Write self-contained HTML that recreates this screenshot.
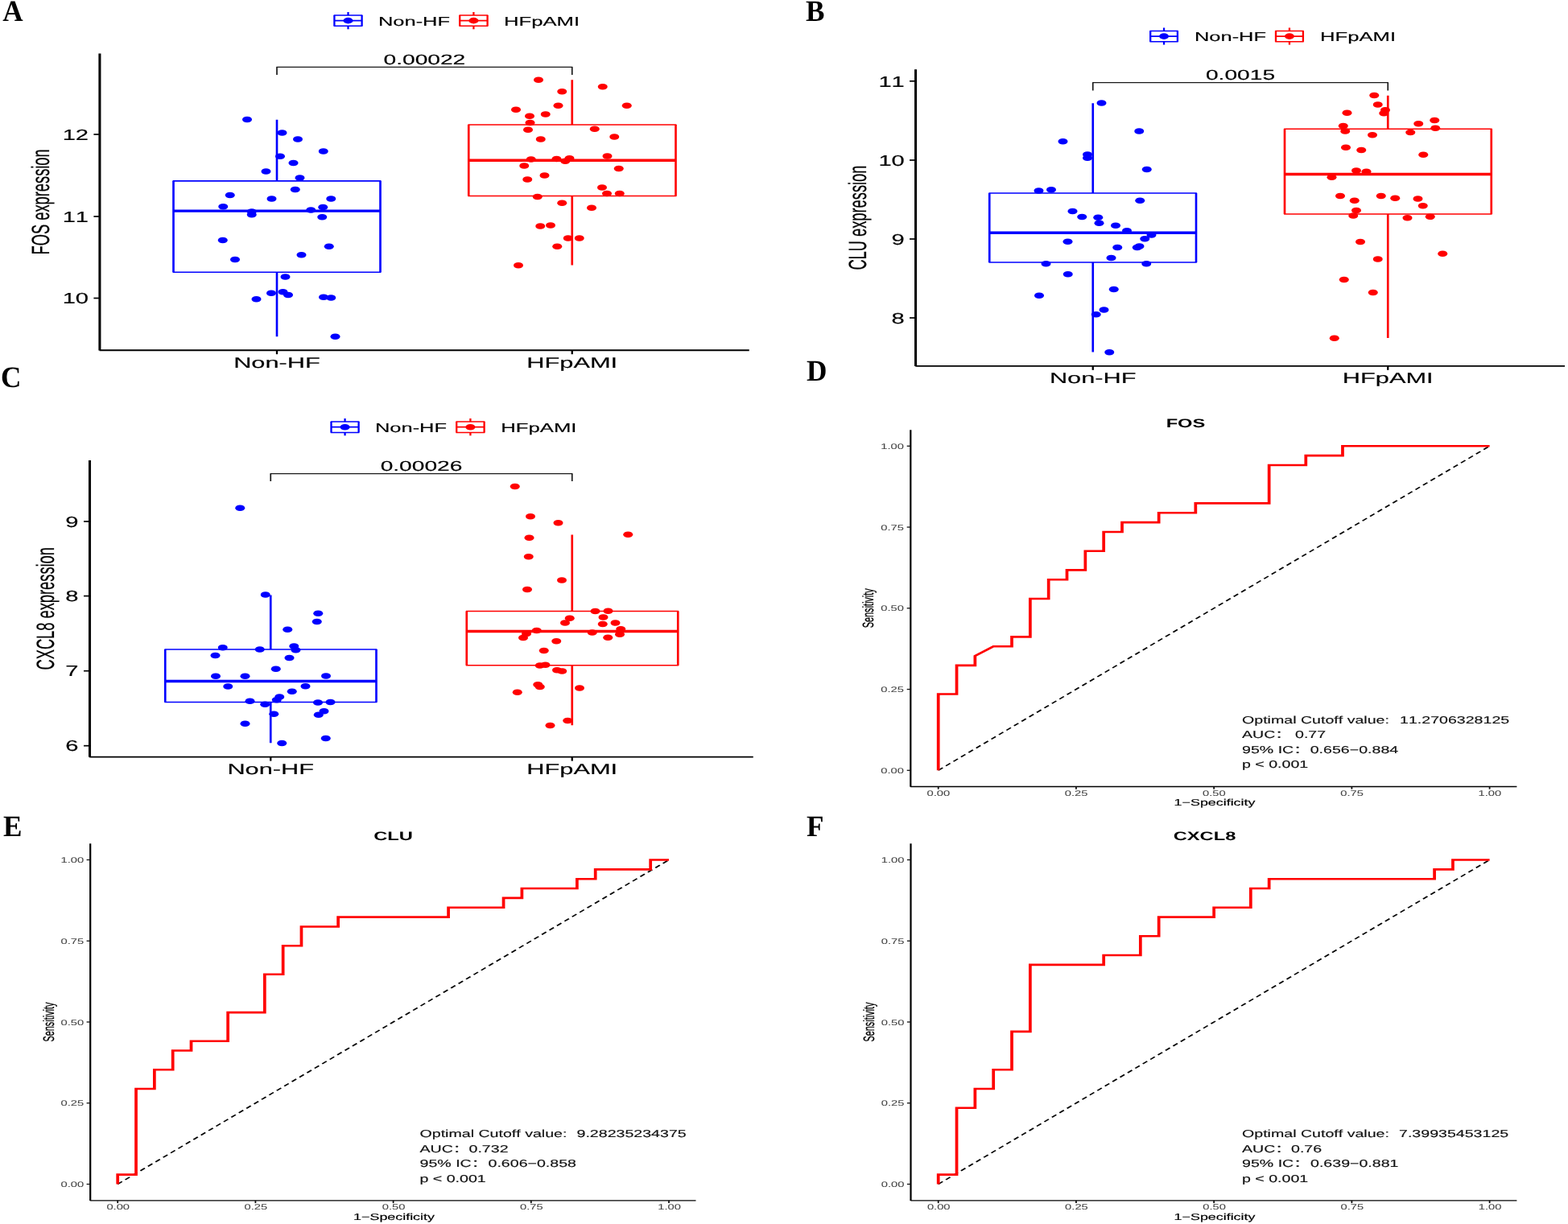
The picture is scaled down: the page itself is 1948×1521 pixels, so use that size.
<!DOCTYPE html>
<html lang="en">
<head>
<meta charset="utf-8">
<title>Figure: FOS, CLU and CXCL8 expression and ROC curves</title>
<style>
html,body{margin:0;padding:0;background:#fff;}
body{width:1948px;height:1521px;overflow:hidden;}
svg{display:block;font-family:'Liberation Sans', 'Noto Sans CJK SC', Arial, Helvetica, sans-serif;font-kerning:none;text-rendering:geometricPrecision;}
</style>
</head>
<body>
<svg width="1948" height="1521" viewBox="0 0 1948 1521">
<rect x="0" y="0" width="1948" height="1521" fill="#ffffff"/>
<line x1="123.90" y1="66.50" x2="123.90" y2="435.40" stroke="#000" stroke-width="3.05" stroke-linecap="butt"/>
<line x1="123.60" y1="435.20" x2="930.75" y2="435.20" stroke="#000" stroke-width="1.95" stroke-linecap="butt"/>
<line x1="116.40" y1="167.00" x2="123.90" y2="167.00" stroke="#000" stroke-width="1.7" stroke-linecap="butt"/>
<text transform="translate(110.05 173.70) scale(1.550 1)" font-size="18.8" text-anchor="end" fill="#000" stroke="#000" stroke-width="0.15">12</text>
<line x1="116.40" y1="269.00" x2="123.90" y2="269.00" stroke="#000" stroke-width="1.7" stroke-linecap="butt"/>
<text transform="translate(110.05 275.70) scale(1.550 1)" font-size="18.8" text-anchor="end" fill="#000" stroke="#000" stroke-width="0.15">11</text>
<line x1="116.40" y1="370.50" x2="123.90" y2="370.50" stroke="#000" stroke-width="1.7" stroke-linecap="butt"/>
<text transform="translate(110.05 377.20) scale(1.550 1)" font-size="18.8" text-anchor="end" fill="#000" stroke="#000" stroke-width="0.15">10</text>
<line x1="344.00" y1="435.20" x2="344.00" y2="440.20" stroke="#000" stroke-width="2.3" stroke-linecap="butt"/>
<text transform="translate(344.00 457.00) scale(1.655 1)" font-size="18.6" text-anchor="middle" fill="#000" stroke="#000" stroke-width="0.15">Non-HF</text>
<line x1="710.75" y1="435.20" x2="710.75" y2="440.20" stroke="#000" stroke-width="2.3" stroke-linecap="butt"/>
<text transform="translate(710.75 457.00) scale(1.655 1)" font-size="18.6" text-anchor="middle" fill="#000" stroke="#000" stroke-width="0.15">HFpAMI</text>
<text transform="translate(61.00 250.85) scale(1.690 1) rotate(-90)" font-size="18.3" text-anchor="middle" fill="#000" stroke="#000" stroke-width="0.15">FOS expression</text>
<line x1="344.00" y1="148.75" x2="344.00" y2="224.80" stroke="#0000ff" stroke-width="2.65" stroke-linecap="butt"/>
<line x1="344.00" y1="338.25" x2="344.00" y2="418.25" stroke="#0000ff" stroke-width="2.65" stroke-linecap="butt"/>
<g stroke="#0000ff" fill="none">
<line x1="215.50" y1="224.80" x2="472.50" y2="224.80" stroke="#0000ff" stroke-width="1.7" stroke-linecap="square"/>
<line x1="215.50" y1="338.25" x2="472.50" y2="338.25" stroke="#0000ff" stroke-width="1.7" stroke-linecap="square"/>
<line x1="215.50" y1="224.80" x2="215.50" y2="338.25" stroke="#0000ff" stroke-width="2.65" stroke-linecap="butt"/>
<line x1="472.50" y1="224.80" x2="472.50" y2="338.25" stroke="#0000ff" stroke-width="2.65" stroke-linecap="butt"/>
<line x1="215.50" y1="262.20" x2="472.50" y2="262.20" stroke="#0000ff" stroke-width="3.3" stroke-linecap="butt"/>
</g>
<g fill="#0000ff">
<ellipse cx="307.00" cy="148.50" rx="6.0" ry="3.8"/>
<ellipse cx="350.50" cy="165.00" rx="6.0" ry="3.8"/>
<ellipse cx="370.00" cy="173.00" rx="6.0" ry="3.8"/>
<ellipse cx="401.75" cy="188.00" rx="6.0" ry="3.8"/>
<ellipse cx="348.00" cy="194.25" rx="6.0" ry="3.8"/>
<ellipse cx="364.50" cy="202.50" rx="6.0" ry="3.8"/>
<ellipse cx="330.50" cy="213.00" rx="6.0" ry="3.8"/>
<ellipse cx="372.50" cy="221.00" rx="6.0" ry="3.8"/>
<ellipse cx="366.75" cy="235.50" rx="6.0" ry="3.8"/>
<ellipse cx="285.75" cy="242.50" rx="6.0" ry="3.8"/>
<ellipse cx="337.50" cy="247.00" rx="6.0" ry="3.8"/>
<ellipse cx="411.25" cy="247.00" rx="6.0" ry="3.8"/>
<ellipse cx="277.25" cy="256.75" rx="6.0" ry="3.8"/>
<ellipse cx="401.25" cy="257.50" rx="6.0" ry="3.8"/>
<ellipse cx="386.25" cy="261.00" rx="6.0" ry="3.8"/>
<ellipse cx="312.75" cy="263.00" rx="6.0" ry="3.8"/>
<ellipse cx="312.75" cy="266.75" rx="6.0" ry="3.8"/>
<ellipse cx="400.25" cy="269.75" rx="6.0" ry="3.8"/>
<ellipse cx="276.75" cy="298.50" rx="6.0" ry="3.8"/>
<ellipse cx="408.75" cy="306.25" rx="6.0" ry="3.8"/>
<ellipse cx="374.50" cy="316.75" rx="6.0" ry="3.8"/>
<ellipse cx="292.00" cy="322.50" rx="6.0" ry="3.8"/>
<ellipse cx="354.50" cy="344.00" rx="6.0" ry="3.8"/>
<ellipse cx="337.00" cy="364.25" rx="6.0" ry="3.8"/>
<ellipse cx="351.50" cy="362.75" rx="6.0" ry="3.8"/>
<ellipse cx="358.00" cy="366.50" rx="6.0" ry="3.8"/>
<ellipse cx="318.50" cy="371.75" rx="6.0" ry="3.8"/>
<ellipse cx="402.00" cy="369.25" rx="6.0" ry="3.8"/>
<ellipse cx="411.25" cy="370.00" rx="6.0" ry="3.8"/>
<ellipse cx="416.50" cy="418.25" rx="6.0" ry="3.8"/>
</g>
<line x1="710.75" y1="99.25" x2="710.75" y2="155.00" stroke="#ff0000" stroke-width="2.65" stroke-linecap="butt"/>
<line x1="710.75" y1="243.50" x2="710.75" y2="329.50" stroke="#ff0000" stroke-width="2.65" stroke-linecap="butt"/>
<g stroke="#ff0000" fill="none">
<line x1="582.25" y1="155.00" x2="839.50" y2="155.00" stroke="#ff0000" stroke-width="1.7" stroke-linecap="square"/>
<line x1="582.25" y1="243.50" x2="839.50" y2="243.50" stroke="#ff0000" stroke-width="1.7" stroke-linecap="square"/>
<line x1="582.25" y1="155.00" x2="582.25" y2="243.50" stroke="#ff0000" stroke-width="2.65" stroke-linecap="butt"/>
<line x1="839.50" y1="155.00" x2="839.50" y2="243.50" stroke="#ff0000" stroke-width="2.65" stroke-linecap="butt"/>
<line x1="582.25" y1="199.25" x2="839.50" y2="199.25" stroke="#ff0000" stroke-width="3.3" stroke-linecap="butt"/>
</g>
<g fill="#ff0000">
<ellipse cx="669.00" cy="99.25" rx="6.0" ry="3.8"/>
<ellipse cx="748.75" cy="107.75" rx="6.0" ry="3.8"/>
<ellipse cx="698.25" cy="113.75" rx="6.0" ry="3.8"/>
<ellipse cx="778.75" cy="131.25" rx="6.0" ry="3.8"/>
<ellipse cx="693.50" cy="131.25" rx="6.0" ry="3.8"/>
<ellipse cx="641.00" cy="136.25" rx="6.0" ry="3.8"/>
<ellipse cx="677.75" cy="142.00" rx="6.0" ry="3.8"/>
<ellipse cx="658.00" cy="144.25" rx="6.0" ry="3.8"/>
<ellipse cx="658.50" cy="152.50" rx="6.0" ry="3.8"/>
<ellipse cx="656.00" cy="161.25" rx="6.0" ry="3.8"/>
<ellipse cx="738.75" cy="160.25" rx="6.0" ry="3.8"/>
<ellipse cx="763.25" cy="170.00" rx="6.0" ry="3.8"/>
<ellipse cx="671.75" cy="173.00" rx="6.0" ry="3.8"/>
<ellipse cx="754.50" cy="194.00" rx="6.0" ry="3.8"/>
<ellipse cx="659.75" cy="198.00" rx="6.0" ry="3.8"/>
<ellipse cx="691.50" cy="197.50" rx="6.0" ry="3.8"/>
<ellipse cx="707.50" cy="196.75" rx="6.0" ry="3.8"/>
<ellipse cx="702.25" cy="200.25" rx="6.0" ry="3.8"/>
<ellipse cx="651.25" cy="206.00" rx="6.0" ry="3.8"/>
<ellipse cx="768.75" cy="209.50" rx="6.0" ry="3.8"/>
<ellipse cx="676.50" cy="218.00" rx="6.0" ry="3.8"/>
<ellipse cx="655.25" cy="223.00" rx="6.0" ry="3.8"/>
<ellipse cx="748.00" cy="233.00" rx="6.0" ry="3.8"/>
<ellipse cx="754.00" cy="240.50" rx="6.0" ry="3.8"/>
<ellipse cx="769.75" cy="240.50" rx="6.0" ry="3.8"/>
<ellipse cx="667.75" cy="244.50" rx="6.0" ry="3.8"/>
<ellipse cx="698.25" cy="252.25" rx="6.0" ry="3.8"/>
<ellipse cx="735.00" cy="258.25" rx="6.0" ry="3.8"/>
<ellipse cx="671.25" cy="281.00" rx="6.0" ry="3.8"/>
<ellipse cx="684.00" cy="280.00" rx="6.0" ry="3.8"/>
<ellipse cx="705.75" cy="296.00" rx="6.0" ry="3.8"/>
<ellipse cx="719.75" cy="296.00" rx="6.0" ry="3.8"/>
<ellipse cx="692.25" cy="306.25" rx="6.0" ry="3.8"/>
<ellipse cx="644.00" cy="329.75" rx="6.0" ry="3.8"/>
</g>
<line x1="344.00" y1="83.30" x2="710.75" y2="83.30" stroke="#1a1a1a" stroke-width="1.15" stroke-linecap="square"/>
<line x1="344.00" y1="83.30" x2="344.00" y2="93.00" stroke="#1a1a1a" stroke-width="1.7" stroke-linecap="butt"/>
<line x1="710.75" y1="83.30" x2="710.75" y2="93.00" stroke="#1a1a1a" stroke-width="1.7" stroke-linecap="butt"/>
<text transform="translate(527.38 79.80) scale(1.600 1)" font-size="17.6" text-anchor="middle" fill="#000" stroke="#000" stroke-width="0.15">0.00022</text>
<line x1="432.50" y1="15.00" x2="432.50" y2="36.30" stroke="#0000ff" stroke-width="2.3" stroke-linecap="butt"/>
<rect x="415.40" y="19.00" width="34.20" height="13.30" fill="#fff" stroke="none"/>
<line x1="415.40" y1="19.00" x2="449.60" y2="19.00" stroke="#0000ff" stroke-width="1.5" stroke-linecap="square"/>
<line x1="415.40" y1="32.30" x2="449.60" y2="32.30" stroke="#0000ff" stroke-width="1.5" stroke-linecap="square"/>
<line x1="415.40" y1="19.00" x2="415.40" y2="32.30" stroke="#0000ff" stroke-width="2.3" stroke-linecap="butt"/>
<line x1="449.60" y1="19.00" x2="449.60" y2="32.30" stroke="#0000ff" stroke-width="2.3" stroke-linecap="butt"/>
<line x1="415.40" y1="25.65" x2="449.60" y2="25.65" stroke="#0000ff" stroke-width="1.8" stroke-linecap="butt"/>
<ellipse cx="432.50" cy="25.65" rx="6" ry="3.8" fill="#0000ff"/>
<line x1="588.40" y1="15.00" x2="588.40" y2="36.30" stroke="#ff0000" stroke-width="2.3" stroke-linecap="butt"/>
<rect x="571.20" y="19.00" width="34.40" height="13.30" fill="#fff" stroke="none"/>
<line x1="571.20" y1="19.00" x2="605.60" y2="19.00" stroke="#ff0000" stroke-width="1.5" stroke-linecap="square"/>
<line x1="571.20" y1="32.30" x2="605.60" y2="32.30" stroke="#ff0000" stroke-width="1.5" stroke-linecap="square"/>
<line x1="571.20" y1="19.00" x2="571.20" y2="32.30" stroke="#ff0000" stroke-width="2.3" stroke-linecap="butt"/>
<line x1="605.60" y1="19.00" x2="605.60" y2="32.30" stroke="#ff0000" stroke-width="2.3" stroke-linecap="butt"/>
<line x1="571.20" y1="25.65" x2="605.60" y2="25.65" stroke="#ff0000" stroke-width="1.8" stroke-linecap="butt"/>
<ellipse cx="588.40" cy="25.65" rx="6" ry="3.8" fill="#ff0000"/>
<text transform="translate(470.00 31.60) scale(1.600 1)" font-size="15.9" text-anchor="start" fill="#000" stroke="#000" stroke-width="0.15">Non-HF</text>
<text transform="translate(626.00 31.60) scale(1.615 1)" font-size="15.9" text-anchor="start" fill="#000" stroke="#000" stroke-width="0.15">HFpAMI</text>
<text transform="translate(3.2 26.0) scale(0.945 1)" font-size="37.2" font-weight="bold" font-family='"Liberation Serif", "Times New Roman", serif' fill="#000">A</text>
<line x1="1137.55" y1="86.30" x2="1137.55" y2="455.05" stroke="#000" stroke-width="3.05" stroke-linecap="butt"/>
<line x1="1137.25" y1="454.85" x2="1944.00" y2="454.85" stroke="#000" stroke-width="1.95" stroke-linecap="butt"/>
<line x1="1130.05" y1="100.80" x2="1137.55" y2="100.80" stroke="#000" stroke-width="1.7" stroke-linecap="butt"/>
<text transform="translate(1123.80 107.50) scale(1.550 1)" font-size="18.8" text-anchor="end" fill="#000" stroke="#000" stroke-width="0.15">11</text>
<line x1="1130.05" y1="199.00" x2="1137.55" y2="199.00" stroke="#000" stroke-width="1.7" stroke-linecap="butt"/>
<text transform="translate(1123.80 205.70) scale(1.550 1)" font-size="18.8" text-anchor="end" fill="#000" stroke="#000" stroke-width="0.15">10</text>
<line x1="1130.05" y1="297.00" x2="1137.55" y2="297.00" stroke="#000" stroke-width="1.7" stroke-linecap="butt"/>
<text transform="translate(1123.80 303.70) scale(1.550 1)" font-size="18.8" text-anchor="end" fill="#000" stroke="#000" stroke-width="0.15">9</text>
<line x1="1130.05" y1="395.00" x2="1137.55" y2="395.00" stroke="#000" stroke-width="1.7" stroke-linecap="butt"/>
<text transform="translate(1123.80 401.70) scale(1.550 1)" font-size="18.8" text-anchor="end" fill="#000" stroke="#000" stroke-width="0.15">8</text>
<line x1="1357.75" y1="454.85" x2="1357.75" y2="459.85" stroke="#000" stroke-width="2.3" stroke-linecap="butt"/>
<text transform="translate(1357.75 476.30) scale(1.655 1)" font-size="18.6" text-anchor="middle" fill="#000" stroke="#000" stroke-width="0.15">Non-HF</text>
<line x1="1724.25" y1="454.85" x2="1724.25" y2="459.85" stroke="#000" stroke-width="2.3" stroke-linecap="butt"/>
<text transform="translate(1724.25 476.30) scale(1.655 1)" font-size="18.6" text-anchor="middle" fill="#000" stroke="#000" stroke-width="0.15">HFpAMI</text>
<text transform="translate(1076.10 270.57) scale(1.690 1) rotate(-90)" font-size="18.3" text-anchor="middle" fill="#000" stroke="#000" stroke-width="0.15">CLU expression</text>
<line x1="1357.75" y1="128.25" x2="1357.75" y2="240.00" stroke="#0000ff" stroke-width="2.65" stroke-linecap="butt"/>
<line x1="1357.75" y1="326.00" x2="1357.75" y2="437.50" stroke="#0000ff" stroke-width="2.65" stroke-linecap="butt"/>
<g stroke="#0000ff" fill="none">
<line x1="1229.25" y1="240.00" x2="1486.00" y2="240.00" stroke="#0000ff" stroke-width="1.7" stroke-linecap="square"/>
<line x1="1229.25" y1="326.00" x2="1486.00" y2="326.00" stroke="#0000ff" stroke-width="1.7" stroke-linecap="square"/>
<line x1="1229.25" y1="240.00" x2="1229.25" y2="326.00" stroke="#0000ff" stroke-width="2.65" stroke-linecap="butt"/>
<line x1="1486.00" y1="240.00" x2="1486.00" y2="326.00" stroke="#0000ff" stroke-width="2.65" stroke-linecap="butt"/>
<line x1="1229.25" y1="289.25" x2="1486.00" y2="289.25" stroke="#0000ff" stroke-width="3.3" stroke-linecap="butt"/>
</g>
<g fill="#0000ff">
<ellipse cx="1368.50" cy="128.00" rx="6.0" ry="3.8"/>
<ellipse cx="1415.25" cy="163.00" rx="6.0" ry="3.8"/>
<ellipse cx="1320.50" cy="175.75" rx="6.0" ry="3.8"/>
<ellipse cx="1351.00" cy="192.00" rx="6.0" ry="3.8"/>
<ellipse cx="1351.00" cy="196.25" rx="6.0" ry="3.8"/>
<ellipse cx="1424.75" cy="210.50" rx="6.0" ry="3.8"/>
<ellipse cx="1290.50" cy="237.00" rx="6.0" ry="3.8"/>
<ellipse cx="1306.00" cy="235.75" rx="6.0" ry="3.8"/>
<ellipse cx="1416.25" cy="249.25" rx="6.0" ry="3.8"/>
<ellipse cx="1332.50" cy="262.50" rx="6.0" ry="3.8"/>
<ellipse cx="1344.25" cy="269.50" rx="6.0" ry="3.8"/>
<ellipse cx="1364.25" cy="270.25" rx="6.0" ry="3.8"/>
<ellipse cx="1365.50" cy="277.25" rx="6.0" ry="3.8"/>
<ellipse cx="1386.00" cy="280.25" rx="6.0" ry="3.8"/>
<ellipse cx="1400.00" cy="286.75" rx="6.0" ry="3.8"/>
<ellipse cx="1430.50" cy="292.00" rx="6.0" ry="3.8"/>
<ellipse cx="1422.25" cy="296.75" rx="6.0" ry="3.8"/>
<ellipse cx="1326.50" cy="300.25" rx="6.0" ry="3.8"/>
<ellipse cx="1388.25" cy="307.50" rx="6.0" ry="3.8"/>
<ellipse cx="1412.75" cy="307.50" rx="6.0" ry="3.8"/>
<ellipse cx="1415.50" cy="306.00" rx="6.0" ry="3.8"/>
<ellipse cx="1380.50" cy="320.50" rx="6.0" ry="3.8"/>
<ellipse cx="1299.50" cy="327.75" rx="6.0" ry="3.8"/>
<ellipse cx="1424.25" cy="327.75" rx="6.0" ry="3.8"/>
<ellipse cx="1326.75" cy="340.75" rx="6.0" ry="3.8"/>
<ellipse cx="1383.75" cy="359.50" rx="6.0" ry="3.8"/>
<ellipse cx="1291.00" cy="367.25" rx="6.0" ry="3.8"/>
<ellipse cx="1371.50" cy="385.00" rx="6.0" ry="3.8"/>
<ellipse cx="1361.75" cy="390.75" rx="6.0" ry="3.8"/>
<ellipse cx="1378.25" cy="437.75" rx="6.0" ry="3.8"/>
</g>
<line x1="1724.25" y1="118.75" x2="1724.25" y2="160.25" stroke="#ff0000" stroke-width="2.65" stroke-linecap="butt"/>
<line x1="1724.25" y1="266.00" x2="1724.25" y2="420.00" stroke="#ff0000" stroke-width="2.65" stroke-linecap="butt"/>
<g stroke="#ff0000" fill="none">
<line x1="1596.00" y1="160.25" x2="1852.75" y2="160.25" stroke="#ff0000" stroke-width="1.7" stroke-linecap="square"/>
<line x1="1596.00" y1="266.00" x2="1852.75" y2="266.00" stroke="#ff0000" stroke-width="1.7" stroke-linecap="square"/>
<line x1="1596.00" y1="160.25" x2="1596.00" y2="266.00" stroke="#ff0000" stroke-width="2.65" stroke-linecap="butt"/>
<line x1="1852.75" y1="160.25" x2="1852.75" y2="266.00" stroke="#ff0000" stroke-width="2.65" stroke-linecap="butt"/>
<line x1="1596.00" y1="216.50" x2="1852.75" y2="216.50" stroke="#ff0000" stroke-width="3.3" stroke-linecap="butt"/>
</g>
<g fill="#ff0000">
<ellipse cx="1707.25" cy="118.50" rx="6.0" ry="3.8"/>
<ellipse cx="1711.75" cy="130.00" rx="6.0" ry="3.8"/>
<ellipse cx="1721.00" cy="136.75" rx="6.0" ry="3.8"/>
<ellipse cx="1719.25" cy="140.75" rx="6.0" ry="3.8"/>
<ellipse cx="1673.50" cy="140.25" rx="6.0" ry="3.8"/>
<ellipse cx="1782.25" cy="149.50" rx="6.0" ry="3.8"/>
<ellipse cx="1762.25" cy="153.75" rx="6.0" ry="3.8"/>
<ellipse cx="1668.75" cy="156.50" rx="6.0" ry="3.8"/>
<ellipse cx="1783.25" cy="159.25" rx="6.0" ry="3.8"/>
<ellipse cx="1671.25" cy="163.00" rx="6.0" ry="3.8"/>
<ellipse cx="1752.25" cy="164.50" rx="6.0" ry="3.8"/>
<ellipse cx="1705.00" cy="167.75" rx="6.0" ry="3.8"/>
<ellipse cx="1672.00" cy="183.25" rx="6.0" ry="3.8"/>
<ellipse cx="1691.25" cy="186.50" rx="6.0" ry="3.8"/>
<ellipse cx="1768.25" cy="192.25" rx="6.0" ry="3.8"/>
<ellipse cx="1685.00" cy="212.00" rx="6.0" ry="3.8"/>
<ellipse cx="1697.50" cy="213.25" rx="6.0" ry="3.8"/>
<ellipse cx="1654.50" cy="220.25" rx="6.0" ry="3.8"/>
<ellipse cx="1665.00" cy="243.50" rx="6.0" ry="3.8"/>
<ellipse cx="1715.75" cy="243.50" rx="6.0" ry="3.8"/>
<ellipse cx="1733.25" cy="246.25" rx="6.0" ry="3.8"/>
<ellipse cx="1761.50" cy="247.00" rx="6.0" ry="3.8"/>
<ellipse cx="1682.75" cy="249.25" rx="6.0" ry="3.8"/>
<ellipse cx="1767.75" cy="255.75" rx="6.0" ry="3.8"/>
<ellipse cx="1685.00" cy="261.50" rx="6.0" ry="3.8"/>
<ellipse cx="1681.25" cy="268.00" rx="6.0" ry="3.8"/>
<ellipse cx="1748.50" cy="270.75" rx="6.0" ry="3.8"/>
<ellipse cx="1776.75" cy="269.25" rx="6.0" ry="3.8"/>
<ellipse cx="1690.00" cy="300.50" rx="6.0" ry="3.8"/>
<ellipse cx="1792.25" cy="315.25" rx="6.0" ry="3.8"/>
<ellipse cx="1711.75" cy="322.00" rx="6.0" ry="3.8"/>
<ellipse cx="1669.75" cy="347.50" rx="6.0" ry="3.8"/>
<ellipse cx="1705.75" cy="363.50" rx="6.0" ry="3.8"/>
<ellipse cx="1657.75" cy="420.25" rx="6.0" ry="3.8"/>
</g>
<line x1="1357.75" y1="102.60" x2="1724.25" y2="102.60" stroke="#1a1a1a" stroke-width="1.15" stroke-linecap="square"/>
<line x1="1357.75" y1="102.60" x2="1357.75" y2="112.50" stroke="#1a1a1a" stroke-width="1.7" stroke-linecap="butt"/>
<line x1="1724.25" y1="102.60" x2="1724.25" y2="112.50" stroke="#1a1a1a" stroke-width="1.7" stroke-linecap="butt"/>
<text transform="translate(1541.00 99.20) scale(1.600 1)" font-size="17.6" text-anchor="middle" fill="#000" stroke="#000" stroke-width="0.15">0.0015</text>
<line x1="1446.05" y1="34.50" x2="1446.05" y2="55.60" stroke="#0000ff" stroke-width="2.3" stroke-linecap="butt"/>
<rect x="1429.20" y="38.40" width="33.70" height="13.40" fill="#fff" stroke="none"/>
<line x1="1429.20" y1="38.40" x2="1462.90" y2="38.40" stroke="#0000ff" stroke-width="1.5" stroke-linecap="square"/>
<line x1="1429.20" y1="51.80" x2="1462.90" y2="51.80" stroke="#0000ff" stroke-width="1.5" stroke-linecap="square"/>
<line x1="1429.20" y1="38.40" x2="1429.20" y2="51.80" stroke="#0000ff" stroke-width="2.3" stroke-linecap="butt"/>
<line x1="1462.90" y1="38.40" x2="1462.90" y2="51.80" stroke="#0000ff" stroke-width="2.3" stroke-linecap="butt"/>
<line x1="1429.20" y1="45.10" x2="1462.90" y2="45.10" stroke="#0000ff" stroke-width="1.8" stroke-linecap="butt"/>
<ellipse cx="1446.05" cy="45.10" rx="6" ry="3.8" fill="#0000ff"/>
<line x1="1601.95" y1="34.50" x2="1601.95" y2="55.60" stroke="#ff0000" stroke-width="2.3" stroke-linecap="butt"/>
<rect x="1585.00" y="38.40" width="33.90" height="13.40" fill="#fff" stroke="none"/>
<line x1="1585.00" y1="38.40" x2="1618.90" y2="38.40" stroke="#ff0000" stroke-width="1.5" stroke-linecap="square"/>
<line x1="1585.00" y1="51.80" x2="1618.90" y2="51.80" stroke="#ff0000" stroke-width="1.5" stroke-linecap="square"/>
<line x1="1585.00" y1="38.40" x2="1585.00" y2="51.80" stroke="#ff0000" stroke-width="2.3" stroke-linecap="butt"/>
<line x1="1618.90" y1="38.40" x2="1618.90" y2="51.80" stroke="#ff0000" stroke-width="2.3" stroke-linecap="butt"/>
<line x1="1585.00" y1="45.10" x2="1618.90" y2="45.10" stroke="#ff0000" stroke-width="1.8" stroke-linecap="butt"/>
<ellipse cx="1601.95" cy="45.10" rx="6" ry="3.8" fill="#ff0000"/>
<text transform="translate(1484.00 50.90) scale(1.600 1)" font-size="15.9" text-anchor="start" fill="#000" stroke="#000" stroke-width="0.15">Non-HF</text>
<text transform="translate(1640.00 50.90) scale(1.615 1)" font-size="15.9" text-anchor="start" fill="#000" stroke="#000" stroke-width="0.15">HFpAMI</text>
<text transform="translate(1001 26) scale(0.945 1)" font-size="37.2" font-weight="bold" font-family='"Liberation Serif", "Times New Roman", serif' fill="#000">B</text>
<line x1="111.50" y1="572.00" x2="111.50" y2="940.80" stroke="#000" stroke-width="3.05" stroke-linecap="butt"/>
<line x1="111.20" y1="940.60" x2="935.75" y2="940.60" stroke="#000" stroke-width="1.95" stroke-linecap="butt"/>
<line x1="104.00" y1="648.00" x2="111.50" y2="648.00" stroke="#000" stroke-width="1.7" stroke-linecap="butt"/>
<text transform="translate(97.55 654.70) scale(1.550 1)" font-size="18.8" text-anchor="end" fill="#000" stroke="#000" stroke-width="0.15">9</text>
<line x1="104.00" y1="740.60" x2="111.50" y2="740.60" stroke="#000" stroke-width="1.7" stroke-linecap="butt"/>
<text transform="translate(97.55 747.30) scale(1.550 1)" font-size="18.8" text-anchor="end" fill="#000" stroke="#000" stroke-width="0.15">8</text>
<line x1="104.00" y1="833.70" x2="111.50" y2="833.70" stroke="#000" stroke-width="1.7" stroke-linecap="butt"/>
<text transform="translate(97.55 840.40) scale(1.550 1)" font-size="18.8" text-anchor="end" fill="#000" stroke="#000" stroke-width="0.15">7</text>
<line x1="104.00" y1="926.70" x2="111.50" y2="926.70" stroke="#000" stroke-width="1.7" stroke-linecap="butt"/>
<text transform="translate(97.55 933.40) scale(1.550 1)" font-size="18.8" text-anchor="end" fill="#000" stroke="#000" stroke-width="0.15">6</text>
<line x1="336.25" y1="940.60" x2="336.25" y2="945.60" stroke="#000" stroke-width="2.3" stroke-linecap="butt"/>
<text transform="translate(336.25 962.20) scale(1.655 1)" font-size="18.6" text-anchor="middle" fill="#000" stroke="#000" stroke-width="0.15">Non-HF</text>
<line x1="710.75" y1="940.60" x2="710.75" y2="945.60" stroke="#000" stroke-width="2.3" stroke-linecap="butt"/>
<text transform="translate(710.75 962.20) scale(1.655 1)" font-size="18.6" text-anchor="middle" fill="#000" stroke="#000" stroke-width="0.15">HFpAMI</text>
<text transform="translate(66.50 756.30) scale(1.690 1) rotate(-90)" font-size="18.3" text-anchor="middle" fill="#000" stroke="#000" stroke-width="0.15">CXCL8 expression</text>
<line x1="336.25" y1="739.50" x2="336.25" y2="807.00" stroke="#0000ff" stroke-width="2.65" stroke-linecap="butt"/>
<line x1="336.25" y1="872.50" x2="336.25" y2="923.25" stroke="#0000ff" stroke-width="2.65" stroke-linecap="butt"/>
<g stroke="#0000ff" fill="none">
<line x1="205.25" y1="807.00" x2="467.50" y2="807.00" stroke="#0000ff" stroke-width="1.7" stroke-linecap="square"/>
<line x1="205.25" y1="872.50" x2="467.50" y2="872.50" stroke="#0000ff" stroke-width="1.7" stroke-linecap="square"/>
<line x1="205.25" y1="807.00" x2="205.25" y2="872.50" stroke="#0000ff" stroke-width="2.65" stroke-linecap="butt"/>
<line x1="467.50" y1="807.00" x2="467.50" y2="872.50" stroke="#0000ff" stroke-width="2.65" stroke-linecap="butt"/>
<line x1="205.25" y1="846.50" x2="467.50" y2="846.50" stroke="#0000ff" stroke-width="3.3" stroke-linecap="butt"/>
</g>
<g fill="#0000ff">
<ellipse cx="298.25" cy="631.25" rx="6.0" ry="3.8"/>
<ellipse cx="329.75" cy="739.00" rx="6.0" ry="3.8"/>
<ellipse cx="395.25" cy="762.25" rx="6.0" ry="3.8"/>
<ellipse cx="393.75" cy="772.50" rx="6.0" ry="3.8"/>
<ellipse cx="357.25" cy="782.25" rx="6.0" ry="3.8"/>
<ellipse cx="276.75" cy="804.75" rx="6.0" ry="3.8"/>
<ellipse cx="322.75" cy="807.00" rx="6.0" ry="3.8"/>
<ellipse cx="365.25" cy="803.00" rx="6.0" ry="3.8"/>
<ellipse cx="367.50" cy="807.75" rx="6.0" ry="3.8"/>
<ellipse cx="267.50" cy="814.50" rx="6.0" ry="3.8"/>
<ellipse cx="359.50" cy="817.50" rx="6.0" ry="3.8"/>
<ellipse cx="342.75" cy="831.25" rx="6.0" ry="3.8"/>
<ellipse cx="268.00" cy="840.25" rx="6.0" ry="3.8"/>
<ellipse cx="304.50" cy="840.25" rx="6.0" ry="3.8"/>
<ellipse cx="405.00" cy="840.00" rx="6.0" ry="3.8"/>
<ellipse cx="283.25" cy="853.00" rx="6.0" ry="3.8"/>
<ellipse cx="379.50" cy="852.75" rx="6.0" ry="3.8"/>
<ellipse cx="362.75" cy="859.25" rx="6.0" ry="3.8"/>
<ellipse cx="347.25" cy="866.00" rx="6.0" ry="3.8"/>
<ellipse cx="343.75" cy="869.75" rx="6.0" ry="3.8"/>
<ellipse cx="310.50" cy="871.25" rx="6.0" ry="3.8"/>
<ellipse cx="329.25" cy="875.25" rx="6.0" ry="3.8"/>
<ellipse cx="395.00" cy="873.00" rx="6.0" ry="3.8"/>
<ellipse cx="410.50" cy="872.50" rx="6.0" ry="3.8"/>
<ellipse cx="340.25" cy="887.25" rx="6.0" ry="3.8"/>
<ellipse cx="402.50" cy="883.75" rx="6.0" ry="3.8"/>
<ellipse cx="395.75" cy="888.25" rx="6.0" ry="3.8"/>
<ellipse cx="304.50" cy="899.25" rx="6.0" ry="3.8"/>
<ellipse cx="404.75" cy="917.50" rx="6.0" ry="3.8"/>
<ellipse cx="350.25" cy="923.50" rx="6.0" ry="3.8"/>
</g>
<line x1="710.75" y1="664.50" x2="710.75" y2="759.50" stroke="#ff0000" stroke-width="2.65" stroke-linecap="butt"/>
<line x1="710.75" y1="826.75" x2="710.75" y2="901.25" stroke="#ff0000" stroke-width="2.65" stroke-linecap="butt"/>
<g stroke="#ff0000" fill="none">
<line x1="579.75" y1="759.50" x2="842.25" y2="759.50" stroke="#ff0000" stroke-width="1.7" stroke-linecap="square"/>
<line x1="579.75" y1="826.75" x2="842.25" y2="826.75" stroke="#ff0000" stroke-width="1.7" stroke-linecap="square"/>
<line x1="579.75" y1="759.50" x2="579.75" y2="826.75" stroke="#ff0000" stroke-width="2.65" stroke-linecap="butt"/>
<line x1="842.25" y1="759.50" x2="842.25" y2="826.75" stroke="#ff0000" stroke-width="2.65" stroke-linecap="butt"/>
<line x1="579.75" y1="784.50" x2="842.25" y2="784.50" stroke="#ff0000" stroke-width="3.3" stroke-linecap="butt"/>
</g>
<g fill="#ff0000">
<ellipse cx="639.75" cy="604.50" rx="6.0" ry="3.8"/>
<ellipse cx="659.00" cy="641.75" rx="6.0" ry="3.8"/>
<ellipse cx="693.50" cy="649.75" rx="6.0" ry="3.8"/>
<ellipse cx="780.25" cy="664.25" rx="6.0" ry="3.8"/>
<ellipse cx="657.50" cy="668.25" rx="6.0" ry="3.8"/>
<ellipse cx="656.75" cy="691.75" rx="6.0" ry="3.8"/>
<ellipse cx="698.00" cy="721.00" rx="6.0" ry="3.8"/>
<ellipse cx="655.00" cy="732.50" rx="6.0" ry="3.8"/>
<ellipse cx="739.50" cy="759.50" rx="6.0" ry="3.8"/>
<ellipse cx="755.50" cy="759.25" rx="6.0" ry="3.8"/>
<ellipse cx="707.75" cy="768.25" rx="6.0" ry="3.8"/>
<ellipse cx="749.50" cy="767.00" rx="6.0" ry="3.8"/>
<ellipse cx="702.00" cy="774.00" rx="6.0" ry="3.8"/>
<ellipse cx="748.75" cy="775.50" rx="6.0" ry="3.8"/>
<ellipse cx="764.50" cy="774.00" rx="6.0" ry="3.8"/>
<ellipse cx="666.75" cy="783.50" rx="6.0" ry="3.8"/>
<ellipse cx="771.25" cy="781.75" rx="6.0" ry="3.8"/>
<ellipse cx="735.75" cy="786.00" rx="6.0" ry="3.8"/>
<ellipse cx="654.00" cy="787.50" rx="6.0" ry="3.8"/>
<ellipse cx="770.00" cy="788.25" rx="6.0" ry="3.8"/>
<ellipse cx="650.00" cy="792.50" rx="6.0" ry="3.8"/>
<ellipse cx="755.25" cy="792.25" rx="6.0" ry="3.8"/>
<ellipse cx="691.25" cy="796.75" rx="6.0" ry="3.8"/>
<ellipse cx="675.75" cy="808.50" rx="6.0" ry="3.8"/>
<ellipse cx="670.75" cy="827.00" rx="6.0" ry="3.8"/>
<ellipse cx="677.50" cy="826.25" rx="6.0" ry="3.8"/>
<ellipse cx="692.00" cy="832.75" rx="6.0" ry="3.8"/>
<ellipse cx="698.25" cy="834.00" rx="6.0" ry="3.8"/>
<ellipse cx="668.25" cy="850.75" rx="6.0" ry="3.8"/>
<ellipse cx="670.75" cy="853.50" rx="6.0" ry="3.8"/>
<ellipse cx="720.00" cy="855.00" rx="6.0" ry="3.8"/>
<ellipse cx="642.75" cy="860.25" rx="6.0" ry="3.8"/>
<ellipse cx="705.25" cy="895.50" rx="6.0" ry="3.8"/>
<ellipse cx="683.50" cy="901.50" rx="6.0" ry="3.8"/>
</g>
<line x1="336.25" y1="588.60" x2="710.75" y2="588.60" stroke="#1a1a1a" stroke-width="1.15" stroke-linecap="square"/>
<line x1="336.25" y1="588.60" x2="336.25" y2="598.00" stroke="#1a1a1a" stroke-width="1.7" stroke-linecap="butt"/>
<line x1="710.75" y1="588.60" x2="710.75" y2="598.00" stroke="#1a1a1a" stroke-width="1.7" stroke-linecap="butt"/>
<text transform="translate(523.50 584.90) scale(1.600 1)" font-size="17.6" text-anchor="middle" fill="#000" stroke="#000" stroke-width="0.15">0.00026</text>
<line x1="428.55" y1="520.00" x2="428.55" y2="541.30" stroke="#0000ff" stroke-width="2.3" stroke-linecap="butt"/>
<rect x="411.50" y="524.00" width="34.10" height="13.40" fill="#fff" stroke="none"/>
<line x1="411.50" y1="524.00" x2="445.60" y2="524.00" stroke="#0000ff" stroke-width="1.5" stroke-linecap="square"/>
<line x1="411.50" y1="537.40" x2="445.60" y2="537.40" stroke="#0000ff" stroke-width="1.5" stroke-linecap="square"/>
<line x1="411.50" y1="524.00" x2="411.50" y2="537.40" stroke="#0000ff" stroke-width="2.3" stroke-linecap="butt"/>
<line x1="445.60" y1="524.00" x2="445.60" y2="537.40" stroke="#0000ff" stroke-width="2.3" stroke-linecap="butt"/>
<line x1="411.50" y1="530.70" x2="445.60" y2="530.70" stroke="#0000ff" stroke-width="1.8" stroke-linecap="butt"/>
<ellipse cx="428.55" cy="530.70" rx="6" ry="3.8" fill="#0000ff"/>
<line x1="584.40" y1="520.00" x2="584.40" y2="541.30" stroke="#ff0000" stroke-width="2.3" stroke-linecap="butt"/>
<rect x="567.20" y="524.00" width="34.40" height="13.40" fill="#fff" stroke="none"/>
<line x1="567.20" y1="524.00" x2="601.60" y2="524.00" stroke="#ff0000" stroke-width="1.5" stroke-linecap="square"/>
<line x1="567.20" y1="537.40" x2="601.60" y2="537.40" stroke="#ff0000" stroke-width="1.5" stroke-linecap="square"/>
<line x1="567.20" y1="524.00" x2="567.20" y2="537.40" stroke="#ff0000" stroke-width="2.3" stroke-linecap="butt"/>
<line x1="601.60" y1="524.00" x2="601.60" y2="537.40" stroke="#ff0000" stroke-width="2.3" stroke-linecap="butt"/>
<line x1="567.20" y1="530.70" x2="601.60" y2="530.70" stroke="#ff0000" stroke-width="1.8" stroke-linecap="butt"/>
<ellipse cx="584.40" cy="530.70" rx="6" ry="3.8" fill="#ff0000"/>
<text transform="translate(466.00 536.60) scale(1.600 1)" font-size="15.9" text-anchor="start" fill="#000" stroke="#000" stroke-width="0.15">Non-HF</text>
<text transform="translate(622.30 536.60) scale(1.615 1)" font-size="15.9" text-anchor="start" fill="#000" stroke="#000" stroke-width="0.15">HFpAMI</text>
<text transform="translate(1.0 480.6) scale(0.945 1)" font-size="37.2" font-weight="bold" font-family='"Liberation Serif", "Times New Roman", serif' fill="#000">C</text>
<line x1="1131.30" y1="534.20" x2="1131.30" y2="977.65" stroke="#000" stroke-width="2.2" stroke-linecap="butt"/>
<line x1="1131.10" y1="977.50" x2="1884.40" y2="977.50" stroke="#000" stroke-width="1.35" stroke-linecap="butt"/>
<line x1="1126.70" y1="957.30" x2="1131.30" y2="957.30" stroke="#111" stroke-width="1.3" stroke-linecap="butt"/>
<text transform="translate(1122.90 960.90) scale(1.500 1)" font-size="9.8" text-anchor="end" fill="#454545" stroke="#454545" stroke-width="0.06">0.00</text>
<line x1="1165.70" y1="977.50" x2="1165.70" y2="980.70" stroke="#111" stroke-width="1.8" stroke-linecap="butt"/>
<text transform="translate(1165.90 989.30) scale(1.500 1)" font-size="9.8" text-anchor="middle" fill="#454545" stroke="#454545" stroke-width="0.06">0.00</text>
<line x1="1126.70" y1="856.55" x2="1131.30" y2="856.55" stroke="#111" stroke-width="1.3" stroke-linecap="butt"/>
<text transform="translate(1122.90 860.15) scale(1.500 1)" font-size="9.8" text-anchor="end" fill="#454545" stroke="#454545" stroke-width="0.06">0.25</text>
<line x1="1336.92" y1="977.50" x2="1336.92" y2="980.70" stroke="#111" stroke-width="1.8" stroke-linecap="butt"/>
<text transform="translate(1337.12 989.30) scale(1.500 1)" font-size="9.8" text-anchor="middle" fill="#454545" stroke="#454545" stroke-width="0.06">0.25</text>
<line x1="1126.70" y1="755.80" x2="1131.30" y2="755.80" stroke="#111" stroke-width="1.3" stroke-linecap="butt"/>
<text transform="translate(1122.90 759.40) scale(1.500 1)" font-size="9.8" text-anchor="end" fill="#454545" stroke="#454545" stroke-width="0.06">0.50</text>
<line x1="1508.15" y1="977.50" x2="1508.15" y2="980.70" stroke="#111" stroke-width="1.8" stroke-linecap="butt"/>
<text transform="translate(1508.35 989.30) scale(1.500 1)" font-size="9.8" text-anchor="middle" fill="#454545" stroke="#454545" stroke-width="0.06">0.50</text>
<line x1="1126.70" y1="655.05" x2="1131.30" y2="655.05" stroke="#111" stroke-width="1.3" stroke-linecap="butt"/>
<text transform="translate(1122.90 658.65) scale(1.500 1)" font-size="9.8" text-anchor="end" fill="#454545" stroke="#454545" stroke-width="0.06">0.75</text>
<line x1="1679.38" y1="977.50" x2="1679.38" y2="980.70" stroke="#111" stroke-width="1.8" stroke-linecap="butt"/>
<text transform="translate(1679.58 989.30) scale(1.500 1)" font-size="9.8" text-anchor="middle" fill="#454545" stroke="#454545" stroke-width="0.06">0.75</text>
<line x1="1126.70" y1="554.30" x2="1131.30" y2="554.30" stroke="#111" stroke-width="1.3" stroke-linecap="butt"/>
<text transform="translate(1122.90 557.90) scale(1.500 1)" font-size="9.8" text-anchor="end" fill="#454545" stroke="#454545" stroke-width="0.06">1.00</text>
<line x1="1850.60" y1="977.50" x2="1850.60" y2="980.70" stroke="#111" stroke-width="1.8" stroke-linecap="butt"/>
<text transform="translate(1850.80 989.30) scale(1.500 1)" font-size="9.8" text-anchor="middle" fill="#454545" stroke="#454545" stroke-width="0.06">1.00</text>
<text transform="translate(1473.00 531.30) scale(1.560 1)" font-size="15.2" text-anchor="middle" font-weight="bold" fill="#000">FOS</text>
<text transform="translate(1509.00 1001.20) scale(1.555 1)" font-size="11.5" text-anchor="middle" fill="#000" stroke="#000" stroke-width="0.15">1−Specificity</text>
<text transform="translate(1084.50 755.80) scale(1.750 1) rotate(-90)" font-size="10.9" text-anchor="middle" fill="#000" stroke="#000" stroke-width="0.15">Sensitivity</text>
<g transform="scale(1.43 1)">
<line x1="815.17" y1="957.30" x2="1294.13" y2="554.30" stroke="#000" stroke-width="1.5" stroke-dasharray="5.0 3.6"/>
<path d="M815.17 957.30 L815.17 862.48 L831.14 862.48 L831.14 826.92 L847.10 826.92 L847.10 815.06 L863.07 803.21 L879.03 803.21 L879.03 791.36 L895.00 791.36 L895.00 743.95 L910.97 743.95 L910.97 720.24 L926.93 720.24 L926.93 708.39 L942.90 708.39 L942.90 684.68 L958.86 684.68 L958.86 660.98 L974.83 660.98 L974.83 649.12 L1006.76 649.12 L1006.76 637.27 L1038.69 637.27 L1038.69 625.42 L1102.55 625.42 L1102.55 578.01 L1134.48 578.01 L1134.48 566.15 L1166.41 566.15 L1166.41 554.30 L1294.13 554.30" fill="none" stroke="#ff0000" stroke-width="2.6" stroke-linejoin="miter" stroke-linecap="butt"/>
</g>
<text transform="translate(1543.00 898.80) scale(1.520 1)" font-size="12.9" text-anchor="start" fill="#111" stroke="#111" stroke-width="0.15">Optimal Cutoff value:</text>
<text transform="translate(1739.00 898.80) scale(1.520 1)" font-size="12.9" text-anchor="start" fill="#111" stroke="#111" stroke-width="0.15">11.2706328125</text>
<text transform="translate(1543.00 917.30) scale(1.520 1)" font-size="12.9" text-anchor="start" fill="#111" stroke="#111" stroke-width="0.15">AUC：</text>
<text transform="translate(1609.00 917.30) scale(1.520 1)" font-size="12.9" text-anchor="start" fill="#111" stroke="#111" stroke-width="0.15">0.77</text>
<text transform="translate(1543.00 935.80) scale(1.520 1)" font-size="12.9" text-anchor="start" fill="#111" stroke="#111" stroke-width="0.15">95% IC：</text>
<text transform="translate(1627.70 935.80) scale(1.520 1)" font-size="12.9" text-anchor="start" fill="#111" stroke="#111" stroke-width="0.15">0.656−0.884</text>
<text transform="translate(1543.00 954.30) scale(1.520 1)" font-size="12.9" text-anchor="start" fill="#111" stroke="#111" stroke-width="0.15">p &lt; 0.001</text>
<text transform="translate(1002 472.5) scale(0.945 1)" font-size="37.2" font-weight="bold" font-family='"Liberation Serif", "Times New Roman", serif' fill="#000">D</text>
<line x1="112.20" y1="1048.30" x2="112.20" y2="1492.05" stroke="#000" stroke-width="2.2" stroke-linecap="butt"/>
<line x1="112.00" y1="1491.90" x2="864.50" y2="1491.90" stroke="#000" stroke-width="1.35" stroke-linecap="butt"/>
<line x1="107.60" y1="1471.50" x2="112.20" y2="1471.50" stroke="#111" stroke-width="1.3" stroke-linecap="butt"/>
<text transform="translate(104.10 1475.10) scale(1.500 1)" font-size="9.8" text-anchor="end" fill="#454545" stroke="#454545" stroke-width="0.06">0.00</text>
<line x1="146.20" y1="1491.90" x2="146.20" y2="1495.10" stroke="#111" stroke-width="1.8" stroke-linecap="butt"/>
<text transform="translate(146.70 1503.00) scale(1.500 1)" font-size="9.8" text-anchor="middle" fill="#454545" stroke="#454545" stroke-width="0.06">0.00</text>
<line x1="107.60" y1="1370.75" x2="112.20" y2="1370.75" stroke="#111" stroke-width="1.3" stroke-linecap="butt"/>
<text transform="translate(104.10 1374.35) scale(1.500 1)" font-size="9.8" text-anchor="end" fill="#454545" stroke="#454545" stroke-width="0.06">0.25</text>
<line x1="317.40" y1="1491.90" x2="317.40" y2="1495.10" stroke="#111" stroke-width="1.8" stroke-linecap="butt"/>
<text transform="translate(317.90 1503.00) scale(1.500 1)" font-size="9.8" text-anchor="middle" fill="#454545" stroke="#454545" stroke-width="0.06">0.25</text>
<line x1="107.60" y1="1270.00" x2="112.20" y2="1270.00" stroke="#111" stroke-width="1.3" stroke-linecap="butt"/>
<text transform="translate(104.10 1273.60) scale(1.500 1)" font-size="9.8" text-anchor="end" fill="#454545" stroke="#454545" stroke-width="0.06">0.50</text>
<line x1="488.60" y1="1491.90" x2="488.60" y2="1495.10" stroke="#111" stroke-width="1.8" stroke-linecap="butt"/>
<text transform="translate(489.10 1503.00) scale(1.500 1)" font-size="9.8" text-anchor="middle" fill="#454545" stroke="#454545" stroke-width="0.06">0.50</text>
<line x1="107.60" y1="1169.25" x2="112.20" y2="1169.25" stroke="#111" stroke-width="1.3" stroke-linecap="butt"/>
<text transform="translate(104.10 1172.85) scale(1.500 1)" font-size="9.8" text-anchor="end" fill="#454545" stroke="#454545" stroke-width="0.06">0.75</text>
<line x1="659.80" y1="1491.90" x2="659.80" y2="1495.10" stroke="#111" stroke-width="1.8" stroke-linecap="butt"/>
<text transform="translate(660.30 1503.00) scale(1.500 1)" font-size="9.8" text-anchor="middle" fill="#454545" stroke="#454545" stroke-width="0.06">0.75</text>
<line x1="107.60" y1="1068.50" x2="112.20" y2="1068.50" stroke="#111" stroke-width="1.3" stroke-linecap="butt"/>
<text transform="translate(104.10 1072.10) scale(1.500 1)" font-size="9.8" text-anchor="end" fill="#454545" stroke="#454545" stroke-width="0.06">1.00</text>
<line x1="831.00" y1="1491.90" x2="831.00" y2="1495.10" stroke="#111" stroke-width="1.8" stroke-linecap="butt"/>
<text transform="translate(831.50 1503.00) scale(1.500 1)" font-size="9.8" text-anchor="middle" fill="#454545" stroke="#454545" stroke-width="0.06">1.00</text>
<text transform="translate(488.50 1044.20) scale(1.560 1)" font-size="15.2" text-anchor="middle" font-weight="bold" fill="#000">CLU</text>
<text transform="translate(489.50 1515.70) scale(1.555 1)" font-size="11.5" text-anchor="middle" fill="#000" stroke="#000" stroke-width="0.15">1−Specificity</text>
<text transform="translate(66.50 1270.00) scale(1.750 1) rotate(-90)" font-size="10.9" text-anchor="middle" fill="#000" stroke="#000" stroke-width="0.15">Sensitivity</text>
<g transform="scale(1.43 1)">
<line x1="102.24" y1="1471.50" x2="581.12" y2="1068.50" stroke="#000" stroke-width="1.5" stroke-dasharray="5.0 3.6"/>
<path d="M102.24 1471.50 L102.24 1459.65 L118.20 1459.65 L118.20 1352.97 L134.16 1352.97 L134.16 1329.26 L150.13 1329.26 L150.13 1305.56 L166.09 1305.56 L166.09 1293.71 L198.01 1293.71 L198.01 1258.15 L229.94 1258.15 L229.94 1210.74 L245.90 1210.74 L245.90 1175.18 L261.86 1175.18 L261.86 1151.47 L293.79 1151.47 L293.79 1139.62 L389.57 1139.62 L389.57 1127.76 L437.45 1127.76 L437.45 1115.91 L453.42 1115.91 L453.42 1104.06 L501.31 1104.06 L501.31 1092.21 L517.27 1092.21 L517.27 1080.35 L565.16 1080.35 L565.16 1068.50 L581.12 1068.50" fill="none" stroke="#ff0000" stroke-width="2.6" stroke-linejoin="miter" stroke-linecap="butt"/>
</g>
<text transform="translate(521.50 1413.00) scale(1.520 1)" font-size="12.9" text-anchor="start" fill="#111" stroke="#111" stroke-width="0.15">Optimal Cutoff value:</text>
<text transform="translate(716.50 1413.00) scale(1.520 1)" font-size="12.9" text-anchor="start" fill="#111" stroke="#111" stroke-width="0.15">9.28235234375</text>
<text transform="translate(521.50 1431.50) scale(1.520 1)" font-size="12.9" text-anchor="start" fill="#111" stroke="#111" stroke-width="0.15">AUC：</text>
<text transform="translate(582.50 1431.50) scale(1.520 1)" font-size="12.9" text-anchor="start" fill="#111" stroke="#111" stroke-width="0.15">0.732</text>
<text transform="translate(521.50 1450.00) scale(1.520 1)" font-size="12.9" text-anchor="start" fill="#111" stroke="#111" stroke-width="0.15">95% IC：</text>
<text transform="translate(606.50 1450.00) scale(1.520 1)" font-size="12.9" text-anchor="start" fill="#111" stroke="#111" stroke-width="0.15">0.606−0.858</text>
<text transform="translate(521.50 1468.50) scale(1.520 1)" font-size="12.9" text-anchor="start" fill="#111" stroke="#111" stroke-width="0.15">p &lt; 0.001</text>
<text transform="translate(4 1039) scale(0.945 1)" font-size="37.2" font-weight="bold" font-family='"Liberation Serif", "Times New Roman", serif' fill="#000">E</text>
<line x1="1131.50" y1="1048.30" x2="1131.50" y2="1492.05" stroke="#000" stroke-width="2.2" stroke-linecap="butt"/>
<line x1="1131.30" y1="1491.90" x2="1884.40" y2="1491.90" stroke="#000" stroke-width="1.35" stroke-linecap="butt"/>
<line x1="1126.90" y1="1471.50" x2="1131.50" y2="1471.50" stroke="#111" stroke-width="1.3" stroke-linecap="butt"/>
<text transform="translate(1123.40 1475.10) scale(1.500 1)" font-size="9.8" text-anchor="end" fill="#454545" stroke="#454545" stroke-width="0.06">0.00</text>
<line x1="1165.70" y1="1491.90" x2="1165.70" y2="1495.10" stroke="#111" stroke-width="1.8" stroke-linecap="butt"/>
<text transform="translate(1166.20 1503.00) scale(1.500 1)" font-size="9.8" text-anchor="middle" fill="#454545" stroke="#454545" stroke-width="0.06">0.00</text>
<line x1="1126.90" y1="1370.75" x2="1131.50" y2="1370.75" stroke="#111" stroke-width="1.3" stroke-linecap="butt"/>
<text transform="translate(1123.40 1374.35) scale(1.500 1)" font-size="9.8" text-anchor="end" fill="#454545" stroke="#454545" stroke-width="0.06">0.25</text>
<line x1="1336.92" y1="1491.90" x2="1336.92" y2="1495.10" stroke="#111" stroke-width="1.8" stroke-linecap="butt"/>
<text transform="translate(1337.42 1503.00) scale(1.500 1)" font-size="9.8" text-anchor="middle" fill="#454545" stroke="#454545" stroke-width="0.06">0.25</text>
<line x1="1126.90" y1="1270.00" x2="1131.50" y2="1270.00" stroke="#111" stroke-width="1.3" stroke-linecap="butt"/>
<text transform="translate(1123.40 1273.60) scale(1.500 1)" font-size="9.8" text-anchor="end" fill="#454545" stroke="#454545" stroke-width="0.06">0.50</text>
<line x1="1508.15" y1="1491.90" x2="1508.15" y2="1495.10" stroke="#111" stroke-width="1.8" stroke-linecap="butt"/>
<text transform="translate(1508.65 1503.00) scale(1.500 1)" font-size="9.8" text-anchor="middle" fill="#454545" stroke="#454545" stroke-width="0.06">0.50</text>
<line x1="1126.90" y1="1169.25" x2="1131.50" y2="1169.25" stroke="#111" stroke-width="1.3" stroke-linecap="butt"/>
<text transform="translate(1123.40 1172.85) scale(1.500 1)" font-size="9.8" text-anchor="end" fill="#454545" stroke="#454545" stroke-width="0.06">0.75</text>
<line x1="1679.38" y1="1491.90" x2="1679.38" y2="1495.10" stroke="#111" stroke-width="1.8" stroke-linecap="butt"/>
<text transform="translate(1679.88 1503.00) scale(1.500 1)" font-size="9.8" text-anchor="middle" fill="#454545" stroke="#454545" stroke-width="0.06">0.75</text>
<line x1="1126.90" y1="1068.50" x2="1131.50" y2="1068.50" stroke="#111" stroke-width="1.3" stroke-linecap="butt"/>
<text transform="translate(1123.40 1072.10) scale(1.500 1)" font-size="9.8" text-anchor="end" fill="#454545" stroke="#454545" stroke-width="0.06">1.00</text>
<line x1="1850.60" y1="1491.90" x2="1850.60" y2="1495.10" stroke="#111" stroke-width="1.8" stroke-linecap="butt"/>
<text transform="translate(1851.10 1503.00) scale(1.500 1)" font-size="9.8" text-anchor="middle" fill="#454545" stroke="#454545" stroke-width="0.06">1.00</text>
<text transform="translate(1496.50 1044.20) scale(1.560 1)" font-size="15.2" text-anchor="middle" font-weight="bold" fill="#000">CXCL8</text>
<text transform="translate(1509.00 1515.70) scale(1.555 1)" font-size="11.5" text-anchor="middle" fill="#000" stroke="#000" stroke-width="0.15">1−Specificity</text>
<text transform="translate(1086.00 1270.00) scale(1.750 1) rotate(-90)" font-size="10.9" text-anchor="middle" fill="#000" stroke="#000" stroke-width="0.15">Sensitivity</text>
<g transform="scale(1.43 1)">
<line x1="815.17" y1="1471.50" x2="1294.13" y2="1068.50" stroke="#000" stroke-width="1.5" stroke-dasharray="5.0 3.6"/>
<path d="M815.17 1471.50 L815.17 1459.65 L831.14 1459.65 L831.14 1376.68 L847.10 1376.68 L847.10 1352.97 L863.07 1352.97 L863.07 1329.26 L879.03 1329.26 L879.03 1281.85 L895.00 1281.85 L895.00 1198.88 L958.86 1198.88 L958.86 1187.03 L990.79 1187.03 L990.79 1163.32 L1006.76 1163.32 L1006.76 1139.62 L1054.65 1139.62 L1054.65 1127.76 L1086.58 1127.76 L1086.58 1104.06 L1102.55 1104.06 L1102.55 1092.21 L1246.23 1092.21 L1246.23 1080.35 L1262.20 1080.35 L1262.20 1068.50 L1294.13 1068.50" fill="none" stroke="#ff0000" stroke-width="2.6" stroke-linejoin="miter" stroke-linecap="butt"/>
</g>
<text transform="translate(1543.00 1413.00) scale(1.520 1)" font-size="12.9" text-anchor="start" fill="#111" stroke="#111" stroke-width="0.15">Optimal Cutoff value:</text>
<text transform="translate(1738.00 1413.00) scale(1.520 1)" font-size="12.9" text-anchor="start" fill="#111" stroke="#111" stroke-width="0.15">7.39935453125</text>
<text transform="translate(1543.00 1431.50) scale(1.520 1)" font-size="12.9" text-anchor="start" fill="#111" stroke="#111" stroke-width="0.15">AUC：</text>
<text transform="translate(1604.00 1431.50) scale(1.520 1)" font-size="12.9" text-anchor="start" fill="#111" stroke="#111" stroke-width="0.15">0.76</text>
<text transform="translate(1543.00 1450.00) scale(1.520 1)" font-size="12.9" text-anchor="start" fill="#111" stroke="#111" stroke-width="0.15">95% IC：</text>
<text transform="translate(1628.00 1450.00) scale(1.520 1)" font-size="12.9" text-anchor="start" fill="#111" stroke="#111" stroke-width="0.15">0.639−0.881</text>
<text transform="translate(1543.00 1468.50) scale(1.520 1)" font-size="12.9" text-anchor="start" fill="#111" stroke="#111" stroke-width="0.15">p &lt; 0.001</text>
<text transform="translate(1002 1039) scale(0.945 1)" font-size="37.2" font-weight="bold" font-family='"Liberation Serif", "Times New Roman", serif' fill="#000">F</text>
</svg>
</body>
</html>
